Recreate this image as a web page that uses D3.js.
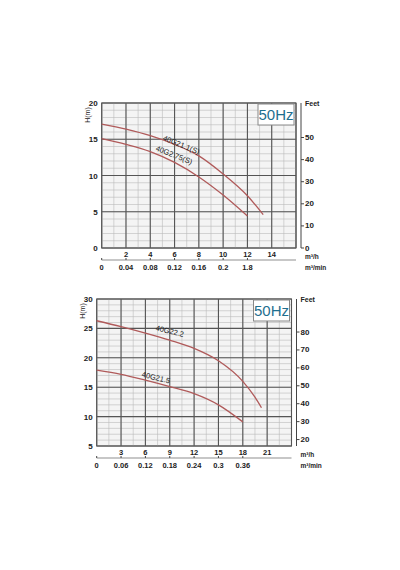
<!DOCTYPE html>
<html><head><meta charset="utf-8">
<script src="https://cdn.jsdelivr.net/npm/d3@7"></script>
<style>body{margin:0;background:#fff}svg{display:block;font-family:"Liberation Sans",Arial,sans-serif}</style>
</head><body><svg id="c" width="400" height="570"></svg>
<script>
// top chart data
const topFlowTicks = [2, 4, 6, 8, 10, 12, 14];
const topMinLabels = ["0", "0.04", "0.08", "0.12", "0.16", "0.2", "1.8"];
const topHeadTicks = [0, 5, 10, 15, 20];
const topFeetTicks = [0, 10, 20, 30, 40, 50];
const curveA_q = [0, 2, 4, 6, 8, 10, 12, 13.3];
const curveA_h = [17.1, 16.4, 15.5, 14.3, 12.7, 10.2, 7.2, 4.6];
const curveB_q = [0, 2, 4, 6, 8, 10, 12];
const curveB_h = [15.1, 14.3, 13.3, 11.8, 9.8, 7.3, 4.4];

// bottom chart data
const botFlowTicks = [3, 6, 9, 12, 15, 18, 21];
const botMinLabels = ["0", "0.06", "0.12", "0.18", "0.24", "0.3", "0.36"];
const botHeadTicks = [5, 10, 15, 20, 25, 30];
const botFeetTicks = [20, 30, 40, 50, 60, 70, 80];
const curveC_q = [0, 3, 6, 9, 12, 15, 18, 19.5, 20.3];
const curveC_h = [26.3, 25.3, 24.2, 23.0, 21.6, 19.5, 16.0, 13.3, 11.5];
const curveD_q = [0, 3, 6, 9, 12, 15, 18];
const curveD_h = [17.9, 17.2, 16.2, 15.1, 13.9, 12.0, 9.1];

const svg = d3.select("#c");
const RED = "#b05a5a";

function chart(o) {
  const x = d3.scaleLinear().domain(o.xd).range([o.l, o.r]);
  const y = d3.scaleLinear().domain(o.yd).range([o.b, o.t]);
  const yf = d3.scaleLinear().domain(o.yd.map(v => v * 3.281)).range([o.b, o.t]);
  const g = svg.append("g");

  g.append("rect").attr("x", o.l).attr("y", o.t).attr("width", o.r - o.l).attr("height", o.b - o.t)
    .attr("fill", "#f4f4f4").attr("stroke", "#444");

  // minor grid
  for (let v = o.xd[0]; v <= o.xd[1] + 1e-6; v += o.xMinor)
    g.append("line").attr("x1", x(v)).attr("x2", x(v)).attr("y1", o.t).attr("y2", o.b).attr("stroke", "#bbb").attr("stroke-width", 0.6);
  for (let v = o.yd[0]; v <= o.yd[1] + 1e-6; v += 1)
    g.append("line").attr("y1", y(v)).attr("y2", y(v)).attr("x1", o.l).attr("x2", o.r).attr("stroke", "#bbb").attr("stroke-width", 0.6);
  // major grid
  for (let v = o.xd[0]; v <= o.xd[1] + 1e-6; v += o.xMajor)
    g.append("line").attr("x1", x(v)).attr("x2", x(v)).attr("y1", o.t).attr("y2", o.b).attr("stroke", "#555").attr("stroke-width", 1.1);
  o.hTicks.forEach(v => g.append("line").attr("y1", y(v)).attr("y2", y(v)).attr("x1", o.l).attr("x2", o.r).attr("stroke", "#555").attr("stroke-width", 1.1));

  // left labels
  o.hTicks.forEach(v => g.append("text").attr("x", o.l - 4).attr("y", y(v) + 3).attr("text-anchor", "end")
    .attr("font-size", 8).attr("font-weight", "bold").attr("fill", "#222").text(v));
  g.append("text").attr("transform", `translate(${o.l - 12},${o.t + 12}) rotate(-90)`).attr("text-anchor", "middle")
    .attr("font-size", 7).attr("fill", "#222").text("H(m)");

  // flow axis labels
  o.flowTicks.forEach(v => g.append("text").attr("x", x(v)).attr("y", o.b + 9).attr("text-anchor", "middle")
    .attr("font-size", 7.5).attr("font-weight", "bold").attr("fill", "#222").text(v));
  g.append("text").attr("x", o.r + 9).attr("y", o.b + 11).attr("font-size", 6.5).attr("font-weight", "bold").attr("fill", "#222").text("m³/h");

  // second (m3/min) axis
  const ay = o.b + 12;
  g.append("line").attr("x1", o.l).attr("x2", o.r).attr("y1", ay).attr("y2", ay).attr("stroke", "#444").attr("stroke-width", 0.6);
  o.minLabels.forEach((s, i) => {
    const xx = i === 0 ? x(0) : x(o.flowTicks[i - 1]);
    g.append("line").attr("x1", xx).attr("x2", xx).attr("y1", ay).attr("y2", ay - 2).attr("stroke", "#444");
    g.append("text").attr("x", xx).attr("y", ay + 10).attr("text-anchor", "middle")
      .attr("font-size", 7.5).attr("font-weight", "bold").attr("fill", "#222").text(s);
  });
  g.append("text").attr("x", o.r + 9).attr("y", ay + 10).attr("font-size", 6.5).attr("font-weight", "bold").attr("fill", "#222").text("m³/min");

  // feet axis
  const fx = o.r + 5;
  g.append("line").attr("x1", fx).attr("x2", fx).attr("y1", o.t).attr("y2", o.b).attr("stroke", "#444");
  o.feetTicks.forEach(v => {
    g.append("line").attr("x1", fx).attr("x2", fx + 3).attr("y1", yf(v)).attr("y2", yf(v)).attr("stroke", "#444");
    g.append("text").attr("x", fx + 4).attr("y", yf(v) + 2.5).attr("font-size", 8).attr("font-weight", "bold").attr("fill", "#222").text(v);
  });
  g.append("text").attr("x", fx + 4).attr("y", o.t + 3).attr("font-size", 7).attr("font-weight", "bold").attr("fill", "#222").text("Feet");

  // 50Hz box
  g.append("rect").attr("x", o.r - 38).attr("y", o.t + 1).attr("width", 36).attr("height", 21)
    .attr("fill", "#fff").attr("stroke", "#888");
  g.append("text").attr("x", o.r - 20).attr("y", o.t + 17).attr("text-anchor", "middle")
    .attr("font-size", 15).attr("fill", "#1f6f8f").text("50Hz");

  // curves
  const line = d3.line().curve(d3.curveMonotoneX).x(d => x(d[0])).y(d => y(d[1]));
  o.curves.forEach(c => {
    g.append("path").datum(d3.zip(c.q, c.h)).attr("d", line).attr("fill", "none").attr("stroke", RED).attr("stroke-width", 1.3);
    g.append("text").attr("transform", `translate(${x(c.lq)},${y(c.lh)}) rotate(${c.rot})`)
      .attr("font-size", 7.5).attr("fill", "#222").text(c.name);
  });
}

chart({
  l: 101.7, r: 296, t: 103, b: 248, xd: [0, 16], yd: [0, 20], xMinor: 1, xMajor: 2,
  hTicks: topHeadTicks, flowTicks: topFlowTicks, minLabels: topMinLabels, feetTicks: topFeetTicks,
  curves: [
    { q: curveA_q, h: curveA_h, name: "40G21.1(S)", lq: 5, lh: 14.9, rot: 22 },
    { q: curveB_q, h: curveB_h, name: "40G2.75(S)", lq: 4.4, lh: 13.5, rot: 22 }
  ]
});

chart({
  l: 96.7, r: 291.5, t: 299, b: 446, xd: [0, 24], yd: [5, 30], xMinor: 1.5, xMajor: 3,
  hTicks: botHeadTicks, flowTicks: botFlowTicks, minLabels: botMinLabels, feetTicks: botFeetTicks,
  curves: [
    { q: curveC_q, h: curveC_h, name: "40G22.2", lq: 7.2, lh: 24.7, rot: 14 },
    { q: curveD_q, h: curveD_h, name: "40G21.5", lq: 5.5, lh: 16.8, rot: 14 }
  ]
});
</script></body></html>
